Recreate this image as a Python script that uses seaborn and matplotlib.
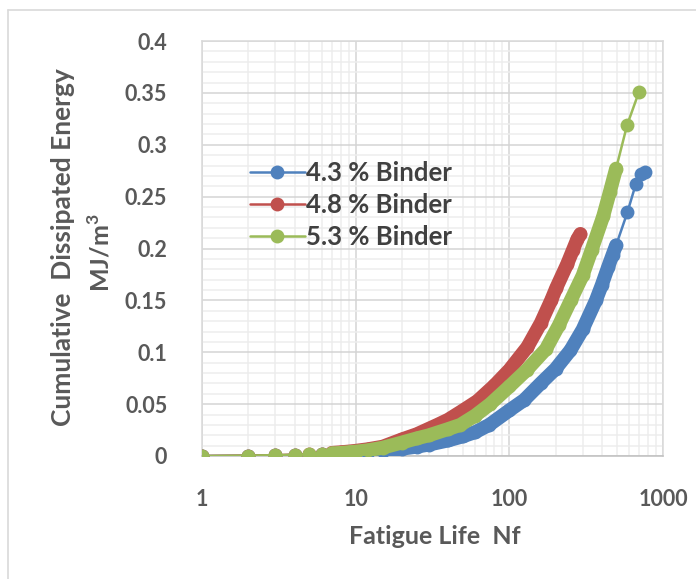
import matplotlib
matplotlib.use("Agg")
import matplotlib.pyplot as plt
import numpy as np
import pandas as pd
import seaborn as sns
from matplotlib.ticker import FixedLocator, FuncFormatter, NullFormatter
from matplotlib.lines import Line2D

# Values (cycles Nf, cumulative dissipated energy MJ/m3)
nf_43 = [1, 2, 3, 4, 5, 6, 7, 8, 9, 10, 12, 15, 20, 25, 30, 40, 50, 60, 74, 100, 125, 160,
         200, 250, 300, 366, 400, 439, 470, 495, 587, 665, 720, 760]
e_43 = [0, 0.0003, 0.0006, 0.001, 0.0013, 0.0017, 0.002, 0.0024, 0.0028, 0.0032, 0.004, 0.005,
        0.007, 0.009, 0.011, 0.015, 0.019, 0.023, 0.030, 0.044, 0.054, 0.070, 0.084, 0.102,
        0.122, 0.150, 0.165, 0.182, 0.194, 0.203, 0.235, 0.262, 0.272, 0.274]

nf_48 = [1, 2, 3, 4, 5, 6, 7, 8, 9, 10, 12, 15, 20, 25, 34, 40, 50, 62, 80, 100, 131, 160,
         187, 202, 238, 260, 277, 290]
e_48 = [0, 0.0004, 0.0008, 0.0013, 0.0018, 0.0023, 0.003, 0.0036, 0.0043, 0.005, 0.0065, 0.009,
        0.016, 0.021, 0.030, 0.035, 0.044, 0.053, 0.068, 0.083, 0.105, 0.128, 0.150, 0.162,
        0.185, 0.199, 0.209, 0.214]

nf_53 = [1, 2, 3, 4, 5, 6, 7, 8, 9, 10, 12, 15, 20, 25, 30, 40, 48, 60, 75, 100, 130, 173,
         210, 251, 300, 344, 408, 450, 495, 584, 698]
e_53 = [0, 0.0004, 0.0008, 0.0012, 0.0016, 0.002, 0.0025, 0.003, 0.0036, 0.0042, 0.0055, 0.008,
        0.013, 0.017, 0.020, 0.026, 0.030, 0.039, 0.050, 0.067, 0.083, 0.103, 0.126, 0.150,
        0.174, 0.199, 0.231, 0.254, 0.277, 0.319, 0.351]

labels = ['4.3 % Binder', '4.8 % Binder', '5.3 % Binder']
colors = ['#4F81BD', '#C0504D', '#9BBB59']
# last cycle of the densely recorded part of each test
dense_end = [495, 290, 495]

series = [(nf_43, e_43), (nf_48, e_48), (nf_53, e_53)]

sns.set_theme(style='white')
plt.rcParams['font.family'] = ['Lato', 'DejaVu Sans']

fig = plt.figure(figsize=(6.96, 5.79), dpi=100)
ax = fig.add_axes([202 / 696, 1 - 456 / 579, 461 / 696, 415 / 579])

ms = 10
for i, (nf, en) in enumerate(series):
    df = pd.DataFrame({'Nf': nf, 'E': en})
    sns.lineplot(data=df, x='Nf', y='E', ax=ax, color=colors[i], marker='o', markersize=ms,
                 markeredgewidth=0, linewidth=1.8, label=labels[i], estimator=None,
                 zorder=3 + i)
    dense = df[(df['Nf'] >= 7) & (df['Nf'] <= dense_end[i])]
    ax.plot(dense['Nf'], dense['E'], color=colors[i], linewidth=ms,
            solid_capstyle='round', solid_joinstyle='round', zorder=3 + i)

ax.set_xscale('log')
ax.set_xlim(1, 1000)
ax.set_ylim(0, 0.4)

ax.yaxis.set_major_locator(FixedLocator(np.arange(0, 0.401, 0.05)))
ax.yaxis.set_minor_locator(FixedLocator(np.arange(0, 0.401, 0.01)))
ax.yaxis.set_major_formatter(FuncFormatter(lambda v, p: f'{v:.2f}'.rstrip('0').rstrip('.')))
ax.xaxis.set_major_locator(FixedLocator([1, 10, 100, 1000]))
ax.xaxis.set_minor_locator(FixedLocator([m * d for d in [1, 10, 100] for m in range(2, 10)]))
ax.xaxis.set_major_formatter(FuncFormatter(lambda v, p: f'{v:g}'))
ax.xaxis.set_minor_formatter(NullFormatter())

ax.grid(which='major', color='#D4D4D4', linewidth=1.1, zorder=0)
ax.grid(which='minor', color='#EDEDED', linewidth=1.1, zorder=0)
ax.set_axisbelow(True)
for s in ax.spines.values():
    s.set_color('#D9D9D9')
    s.set_linewidth(1.1)
ax.spines['bottom'].set_color('#BFBFBF')

ax.tick_params(axis='y', which='both', length=0, pad=25, labelsize=15.5, labelcolor='#595959')
ax.tick_params(axis='x', which='both', length=0, pad=24, labelsize=15.5, labelcolor='#595959')
for t in ax.get_xticklabels() + ax.get_yticklabels():
    t.set_fontweight('bold')

ax.set_xlabel('')
ax.set_ylabel('')
fig.text(435 / 696, 1 - 537 / 579, 'Fatigue Life  Nf', ha='center', va='center',
         fontsize=18, fontweight='bold', color='#595959')
fig.text(63 / 696, 1 - 247 / 579, 'Cumulative  Dissipated Energy', ha='center', va='center',
         rotation=90, fontsize=19, fontweight='bold', color='#595959')
fig.text(100 / 696, 1 - 253 / 579, 'MJ/m$^\\mathregular{3}$', ha='center', va='center',
         rotation=90, fontsize=18, fontweight='bold', color='#595959')

leg = ax.legend(loc='upper left', bbox_to_anchor=(237 / 696, 1 - 148 / 579),
                bbox_transform=fig.transFigure, frameon=False, fontsize=18.5,
                handlelength=2.15, handletextpad=0.05, labelspacing=0.31, borderpad=0)
for t in leg.get_texts():
    t.set_fontweight('bold')
    t.set_color('#404040')

# outer chart frame
fig.add_artist(Line2D([8 / 696, 1], [1 - 10 / 579, 1 - 10 / 579], color='#D9D9D9', lw=1.2))
fig.add_artist(Line2D([8 / 696, 8 / 696], [0, 1 - 10 / 579], color='#D9D9D9', lw=1.2))

fig.savefig('out.png', dpi=100)
